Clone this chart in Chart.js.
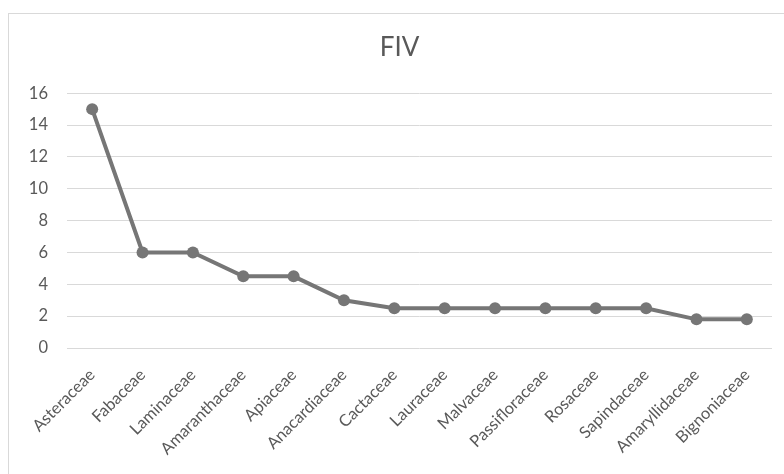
<!DOCTYPE html>
<html>
<head>
<meta charset="utf-8">
<script src="https://cdn.jsdelivr.net/npm/chart.js@4"></script>
<style>
  html, body { margin: 0; padding: 0; background: #fff; }
  #wrap { position: relative; width: 784px; height: 474px; overflow: hidden; }
  #frame { position: absolute; left: 8px; top: 13px; width: 800px; height: 500px; border: 1px solid #d9d9d9; }
  #myChart { position: absolute; left: 0; top: 0; }
</style>
</head>
<body>
<div id="wrap">
  <div id="frame"></div>
  <canvas id="myChart" width="784" height="474"></canvas>
</div>
<script>
const families = [
  "Asteraceae", "Fabaceae", "Laminaceae", "Amaranthaceae", "Apiaceae",
  "Anacardiaceae", "Cactaceae", "Lauraceae", "Malvaceae", "Passifloraceae",
  "Rosaceae", "Sapindaceae", "Amaryllidaceae", "Bignoniaceae",
];
const fiv = [15, 6, 6, 4.5, 4.5, 3, 2.5, 2.5, 2.5, 2.5, 2.5, 2.5, 1.8, 1.8];
const yMin = 0;
const yMax = 16;
const yStep = 2;

const textColor = "#595959";
const lineColor = "#767676";

const ctx = document.getElementById("myChart");
new Chart(ctx, {
  type: "line",
  data: {
    labels: families,
    datasets: [
      {
        label: "FIV",
        data: fiv,
        borderColor: lineColor,
        backgroundColor: lineColor,
        borderWidth: 4,
        pointRadius: 6,
        pointHoverRadius: 6,
        pointBorderWidth: 0,
        tension: 0,
        fill: false,
      },
    ],
  },
  options: {
    responsive: false,
    animation: false,
    // left/right padding keep the title centred where the reference has it
    layout: { padding: { left: 27, right: 12, top: 0, bottom: 0 } },
    plugins: {
      legend: { display: false },
      tooltip: { enabled: false },
      title: {
        display: true,
        text: "FIV",
        color: textColor,
        font: { family: "Lato", size: 26, weight: "normal" },
        padding: { top: 32, bottom: 30 },
      },
    },
    scales: {
      x: {
        offset: true,
        grid: { display: false, drawTicks: false },
        border: { display: false },
        ticks: {
          color: textColor,
          font: { family: "Lato", size: 16.5 },
          maxRotation: 45,
          minRotation: 45,
          padding: 17,
          autoSkip: false,
        },
        afterFit: (s) => { s.height = 126; },
      },
      y: {
        min: yMin,
        max: yMax,
        grid: { color: "#d9d9d9", lineWidth: 1, drawTicks: false },
        border: { display: false },
        ticks: {
          stepSize: yStep,
          color: textColor,
          font: { family: "Lato", size: 16.5 },
          padding: 19,
        },
        afterFit: (s) => { s.width = 40; },
      },
    },
  },
});
</script>
</body>
</html>
